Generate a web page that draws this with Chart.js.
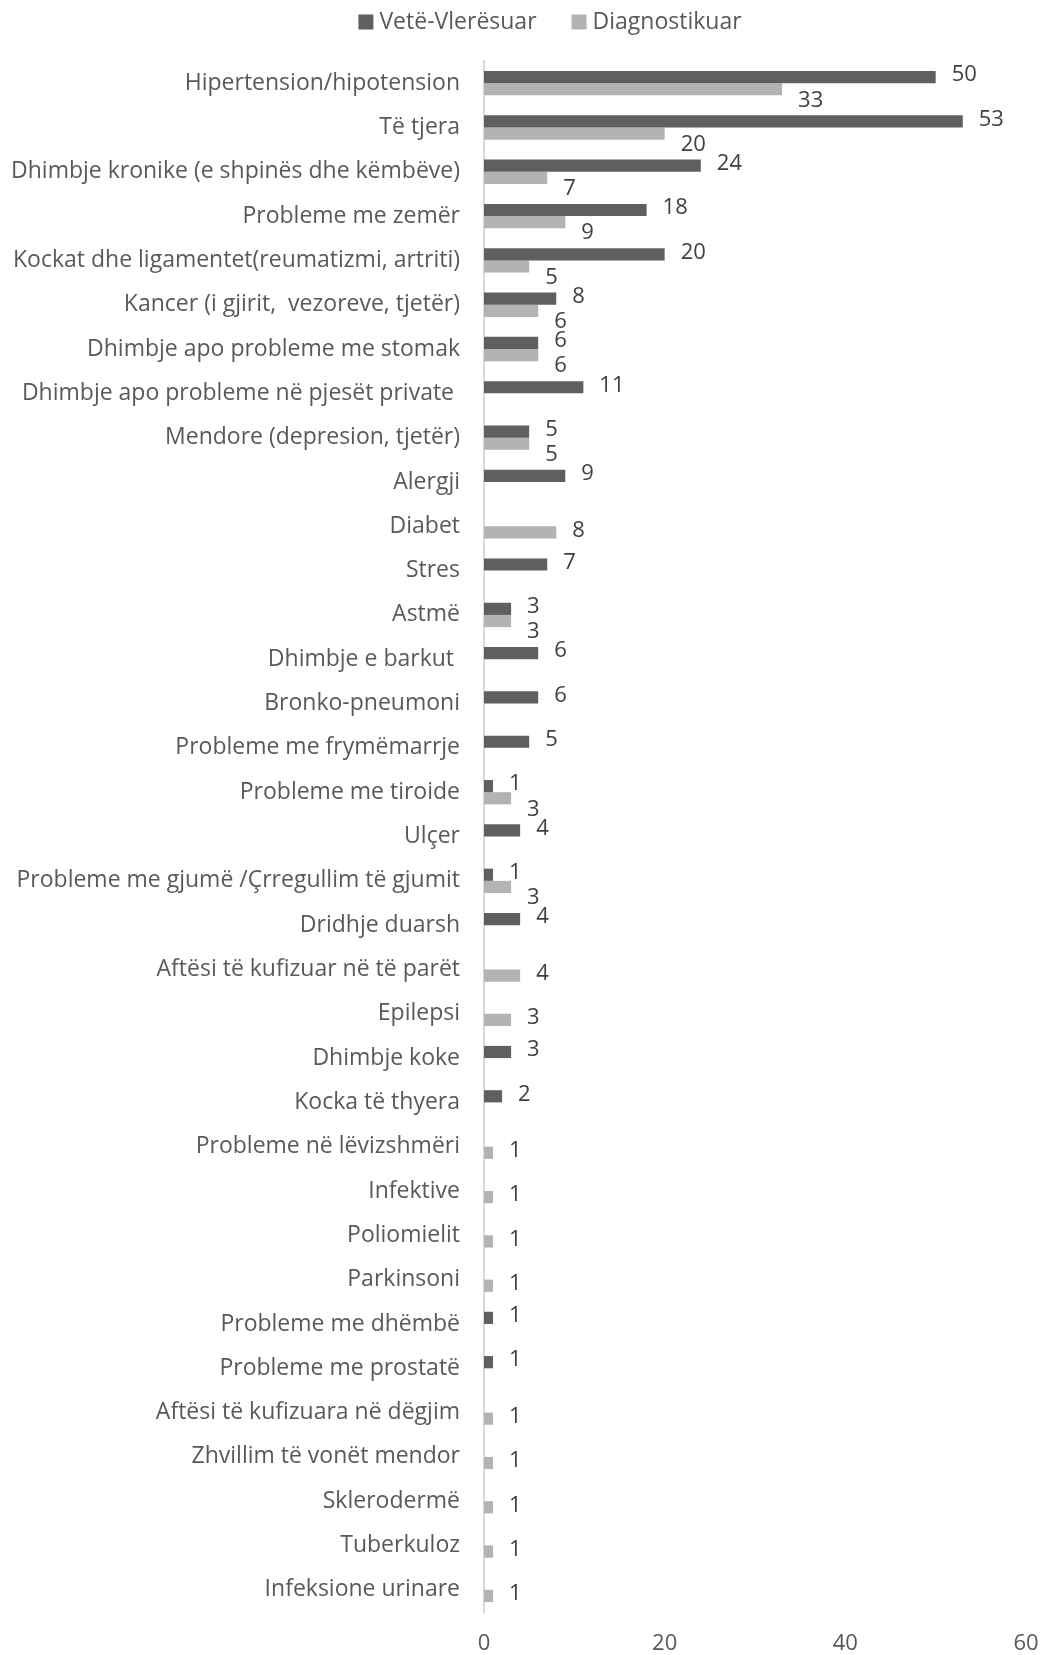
<!DOCTYPE html>
<html>
<head>
<meta charset="utf-8">
<script src="https://cdn.jsdelivr.net/npm/chart.js@4/dist/chart.umd.min.js"></script>
<style>
  html, body { margin: 0; padding: 0; background: #fff; }
  #wrap { width: 1040px; height: 1655px; }
</style>
</head>
<body>
<div id="wrap"><canvas id="healthChart"></canvas></div>
<script>
// Health problems: self-assessed vs diagnosed

const categories = [
    'Hipertension/hipotension',
    'Të tjera',
    'Dhimbje kronike (e shpinës dhe këmbëve)',
    'Probleme me zemër',
    'Kockat dhe ligamentet(reumatizmi, artriti)',
    'Kancer (i gjirit,  vezoreve, tjetër)',
    'Dhimbje apo probleme me stomak',
    'Dhimbje apo probleme në pjesët private ',
    'Mendore (depresion, tjetër)',
    'Alergji',
    'Diabet',
    'Stres',
    'Astmë',
    'Dhimbje e barkut ',
    'Bronko-pneumoni',
    'Probleme me frymëmarrje',
    'Probleme me tiroide',
    'Ulçer',
    'Probleme me gjumë /Çrregullim të gjumit',
    'Dridhje duarsh',
    'Aftësi të kufizuar në të parët',
    'Epilepsi',
    'Dhimbje koke',
    'Kocka të thyera',
    'Probleme në lëvizshmëri',
    'Infektive',
    'Poliomielit',
    'Parkinsoni',
    'Probleme me dhëmbë',
    'Probleme me prostatë',
    'Aftësi të kufizuara në dëgjim',
    'Zhvillim të vonët mendor',
    'Sklerodermë',
    'Tuberkuloz',
    'Infeksione urinare'
];

const selfAssessed = [50, 53, 24, 18, 20, 8, 6, 11, 5, 9, null, 7, 3, 6, 6, 5, 1, 4, 1, 4,
    null, null, 3, 2, null, null, null, null, 1, 1, null, null, null, null, null];

const diagnosed = [33, 20, 7, 9, 5, 6, 6, null, 5, null, 8, null, 3, null, null, null, 3, null, 3, null,
    4, 3, null, null, 1, 1, 1, 1, null, null, 1, 1, 1, 1, 1];

const xTicks = [0, 20, 40, 60];

const FONT = '"Open Sans", sans-serif';
const TEXT_SIZE = 23;

// value labels drawn next to the bar ends
const barLabels = {
    id: 'barLabels',
    afterDatasetsDraw(chart) {
        const ctx = chart.ctx;
        ctx.save();
        ctx.font = '22px ' + FONT;
        ctx.fillStyle = '#404040';
        ctx.textAlign = 'left';
        ctx.textBaseline = 'middle';
        chart.data.datasets.forEach((ds, di) => {
            const meta = chart.getDatasetMeta(di);
            meta.data.forEach((bar, i) => {
                const v = ds.data[i];
                if (v === null) return;
                const other = chart.data.datasets[1 - di].data[i];
                let dy = -2;
                if (di === 1 && other !== null) dy = 11;
                ctx.fillText(String(v), bar.x + 16, bar.y + dy);
            });
        });
        ctx.restore();
    }
};

// legend drawn by hand so spacing follows the original
const topLegend = {
    id: 'topLegend',
    afterDraw(chart) {
        const ctx = chart.ctx;
        const box = 15, gap = 6, itemGap = 35, cx = 550, cy = 22;
        ctx.save();
        ctx.font = TEXT_SIZE + 'px ' + FONT;
        ctx.textBaseline = 'middle';
        ctx.textAlign = 'left';
        const items = chart.data.datasets.map(ds => ({
            text: ds.label,
            color: ds.backgroundColor,
            w: ctx.measureText(ds.label).width
        }));
        let total = 0;
        items.forEach((it, k) => {
            total += box + gap + it.w + (k ? itemGap : 0);
        });
        let x = cx - total / 2;
        items.forEach(it => {
            ctx.fillStyle = it.color;
            ctx.fillRect(x, cy - box / 2, box, box);
            ctx.fillStyle = '#595959';
            ctx.fillText(it.text, x + box + gap, cy);
            x += box + gap + it.w + itemGap;
        });
        ctx.restore();
    }
};

const ctx = document.getElementById('healthChart').getContext('2d');

const healthChart = new Chart(ctx, {
    type: 'bar',
    data: {
        labels: categories,
        datasets: [{
            label: 'Vetë-Vlerësuar',
            data: selfAssessed,
            backgroundColor: '#5f5f5f',
            borderWidth: 0
        }, {
            label: 'Diagnostikuar',
            data: diagnosed,
            backgroundColor: '#b3b3b3',
            borderWidth: 0
        }]
    },
    options: {
        indexAxis: 'y',
        responsive: true,
        maintainAspectRatio: false,
        animation: false,
        layout: {
            padding: { left: 0, right: 14, top: 61, bottom: 0 }
        },
        datasets: {
            bar: {
                categoryPercentage: 0.55,
                barPercentage: 1.0
            }
        },
        scales: {
            x: {
                min: 0,
                max: 60,
                afterBuildTicks: (scale) => {
                    scale.ticks = xTicks.map(v => ({ value: v }));
                },
                afterFit: (scale) => {
                    scale.height = 43;
                    scale.paddingLeft = 0;
                    scale.paddingRight = 0;
                },
                grid: { display: false, drawTicks: false },
                border: { display: false },
                ticks: {
                    padding: 19,
                    color: '#595959',
                    font: { family: FONT, size: 22 }
                }
            },
            y: {
                afterFit: (scale) => {
                    scale.width = 484;
                    scale.paddingTop = 0;
                    scale.paddingBottom = 0;
                },
                grid: { display: false, drawTicks: false },
                border: { display: true, color: '#d9d9d9', width: 2 },
                ticks: {
                    padding: 24,
                    autoSkip: false,
                    color: '#595959',
                    font: { family: FONT, size: TEXT_SIZE }
                }
            }
        },
        plugins: {
            legend: { display: false },
            tooltip: { enabled: false }
        }
    },
    plugins: [barLabels, topLegend]
});
</script>
</body>
</html>
